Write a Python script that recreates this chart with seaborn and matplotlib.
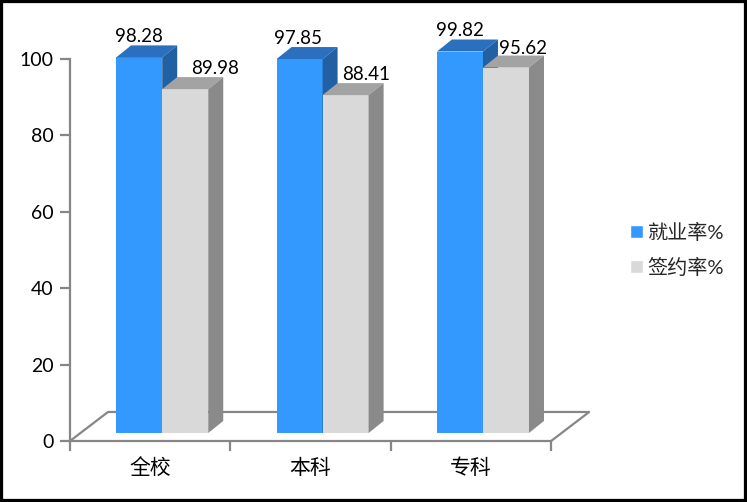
import pandas as pd
import seaborn as sns
import matplotlib.pyplot as plt
import matplotlib.transforms as mtransforms
from matplotlib.patches import Polygon, Rectangle

# values
categories = ['全校', '本科', '专科']
series_names = ['就业率%', '签约率%']
employ_rate = [98.28, 97.85, 99.82]
sign_rate = [89.98, 88.41, 95.62]
y_ticks = [0, 20, 40, 60, 80, 100]

front_colors = ['#3399FF', '#D9D9D9']
top_colors = ['#2A70BE', '#A3A3A3']
side_colors = ['#2060A3', '#8A8A8A']
axis_color = '#868686'

df = pd.DataFrame({
    'cat': categories * 2,
    'rate': employ_rate + sign_rate,
    'series': [series_names[0]] * 3 + [series_names[1]] * 3,
})

sns.set_theme(style='white')
plt.rcParams['font.family'] = ['Lato', 'Noto Sans CJK SC', 'DejaVu Sans']

W, H = 747, 502
fig = plt.figure(figsize=((W + 0.2) / 100, (H + 0.2) / 100), dpi=100, facecolor='white')
ax = fig.add_axes([70 / W, (H - 441) / H, 481 / W, 382 / H])

sns.barplot(data=df, x='cat', y='rate', hue='series', palette=front_colors,
            width=0.574, gap=0, saturation=1, ax=ax, order=categories, hue_order=series_names)

ax.set_xlim(-0.5, 2.5)
ax.set_ylim(0, 100)
ax.set_xlabel('')
ax.set_ylabel('')
ax.set_yticks(y_ticks)
ax.set_xticks([-0.5, 0.5, 1.5, 2.5], minor=True)

ax.tick_params(axis='y', length=7, width=1.6, color=axis_color, left=True, labelsize=14, labelcolor='black', pad=5)
ax.tick_params(axis='x', which='major', length=0, labelsize=15, labelcolor='black', pad=12)
ax.tick_params(axis='x', which='minor', length=7, width=1.6, color=axis_color, bottom=True)

for s in ['top', 'right']:
    ax.spines[s].set_visible(False)
for s in ['left', 'bottom']:
    ax.spines[s].set_color(axis_color)
    ax.spines[s].set_linewidth(1.6)

# floor of the fake 3D box, in pixels
fx, fy = 38, 29
(x0, y0), (x1, _) = ax.transAxes.transform([(0, 0), (1, 0)])
ax.add_artist(plt.Line2D([x0, x0 + fx, x1 + fx, x1], [y0, y0 + fy, y0 + fy, y0],
                         transform=mtransforms.IdentityTransform(), color=axis_color, lw=1.6, zorder=1, clip_on=False))

# bars sit a bit inside the floor, with a depth drawn on top and side
shift_x, shift_y = 12, 8
depth_x, depth_y = 15, 12
shifted = ax.transData + mtransforms.Affine2D().translate(shift_x, shift_y)

label_offsets = [[(0, 21), (-2, 21), (0, 21)], [(30, 21), (21, 21), (17, 19)]]

for i, bars in enumerate(ax.containers[:2]):
    z = 3 + i
    for j, bar in enumerate(bars):
        bar.set_transform(shifted)
        bar.set_clip_on(False)
        bar.set_zorder(z)
        bar.set_linewidth(0)
        (xa, ya), (xb, yb) = shifted.transform([(bar.get_x(), 0), (bar.get_x() + bar.get_width(), bar.get_height())])
        top = Polygon([(xa, yb), (xb, yb), (xb + depth_x, yb + depth_y), (xa + depth_x, yb + depth_y)],
                      transform=mtransforms.IdentityTransform(), fc=top_colors[i], lw=0, zorder=z, clip_on=False)
        side = Polygon([(xb, ya), (xb + depth_x, ya + depth_y), (xb + depth_x, yb + depth_y), (xb, yb)],
                       transform=mtransforms.IdentityTransform(), fc=side_colors[i], lw=0, zorder=z, clip_on=False)
        ax.add_artist(top)
        ax.add_artist(side)
        ox, oy = label_offsets[i][j]
        ax.text((xa + xb) / 2 + ox, yb + oy, f'{bar.get_height():.2f}', transform=mtransforms.IdentityTransform(),
                ha='center', va='center', fontsize=13.5, color='black', zorder=10, clip_on=False)

handles, labels = ax.get_legend_handles_labels()
ax.legend(handles, labels, loc='center left', bbox_to_anchor=(630 / W, (H - 250) / H),
          bbox_transform=fig.transFigure, frameon=False, fontsize=14.5, handlelength=0.62,
          handleheight=0.62, handletextpad=0.25, labelspacing=0.8, borderpad=0, borderaxespad=0)

# black frame round the whole picture
fig.add_artist(Rectangle((0, 0), 1, 1, transform=fig.transFigure, fill=False, ec='black', lw=4.5))

plt.savefig('out.png', dpi=100)
